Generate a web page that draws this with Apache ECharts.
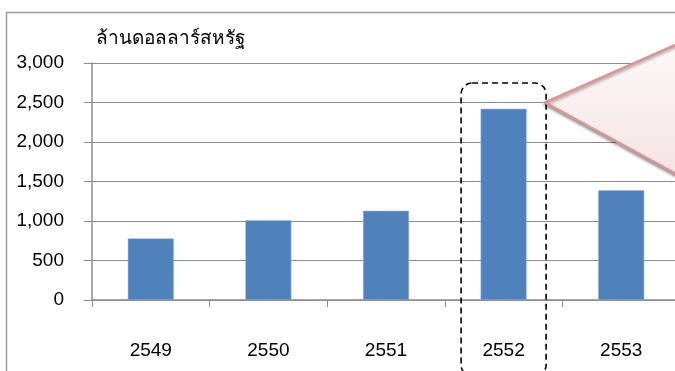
<!DOCTYPE html>
<html>
<head>
<meta charset="utf-8">
<script src="https://cdn.jsdelivr.net/npm/echarts@6/dist/echarts.min.js"></script>
<style>
  html, body { margin: 0; padding: 0; background: #fff; }
  #chart { width: 675px; height: 371px; }
</style>
</head>
<body>
<div id="chart"></div>
<script>
// มูลค่า (ล้านดอลลาร์สหรัฐ) รายปี
const years = ['2549', '2550', '2551', '2552', '2553'];
const values = [780, 1010, 1130, 2420, 1390];
const unitLabel = 'ล้านดอลลาร์สหรัฐ';
const highlightYear = '2552';
const calloutValue = 2500;

const font = 'Arial, "Liberation Sans", "Noto Sans", sans-serif';
const gridColor = '#8c8c8c';

const myChart = echarts.init(document.getElementById('chart'), null, { renderer: 'canvas' });

const option = {
    animation: false,
    backgroundColor: '#fff',
    grid: {
        left: 92,
        right: -5,
        top: 63,
        bottom: 71,
        outerBoundsMode: 'none'
    },
    xAxis: {
        type: 'category',
        data: years,
        axisLine: { show: true, lineStyle: { color: gridColor, width: 1.5 } },
        axisTick: { show: true, length: 7, lineStyle: { color: gridColor } },
        axisLabel: { color: '#000', fontSize: 19, fontFamily: font, margin: 41 }
    },
    yAxis: {
        type: 'value',
        min: 0,
        max: 3000,
        interval: 500,
        axisLine: { show: true, lineStyle: { color: gridColor, width: 1.5 } },
        axisTick: { show: true, inside: false, length: 8, lineStyle: { color: gridColor } },
        axisLabel: {
            color: '#000', fontSize: 19, fontFamily: font, margin: 28,
            formatter: v => v.toLocaleString('en-US')
        },
        splitLine: { show: true, lineStyle: { color: gridColor, width: 1 } }
    },
    series: [{
        type: 'bar',
        data: values,
        barWidth: 46,
        itemStyle: { color: '#4F81BD', borderColor: '#9db8dc', borderWidth: 0.5 }
    }]
};

myChart.setOption(option);

// คำอธิบายเพิ่มเติม: กรอบเส้นประรอบปี 2552 และรูปชี้ไปทางขวา
const center = myChart.convertToPixel({ xAxisIndex: 0 }, highlightYear);
const tipY = myChart.convertToPixel({ yAxisIndex: 0 }, calloutValue);
const boxLeft = center - 42.5;
const boxRight = center + 42.5;

myChart.setOption({
    graphic: [
        {
            type: 'rect',
            shape: { x: 6.5, y: 12.5, width: 720, height: 420 },
            style: { fill: null, stroke: '#9c9c9c', lineWidth: 1.5 },
            silent: true,
            z: 0
        },
        {
            type: 'text',
            left: 96,
            top: 29,
            style: { text: unitLabel, fill: '#000', font: '19px ' + font },
            z: 10
        },
        {
            type: 'rect',
            shape: { x: boxLeft, y: 83, width: boxRight - boxLeft, height: 293, r: 11 },
            style: { fill: null, stroke: '#000', lineWidth: 1.6, lineDash: [6, 4] },
            z: 20
        },
        {
            type: 'polygon',
            shape: { points: [[boxRight - 1, tipY], [700, 34], [700, 187]] },
            style: {
                fill: new echarts.graphic.LinearGradient(0, 0, 0, 1, [
                    { offset: 0, color: '#fdfafa' },
                    { offset: 1, color: '#f3e2e2' }
                ]),
                stroke: '#d99694',
                lineWidth: 2.5,
                shadowBlur: 3,
                shadowOffsetY: 2,
                shadowColor: 'rgba(0,0,0,0.35)'
            },
            z: 30
        }
    ]
});
</script>
</body>
</html>
